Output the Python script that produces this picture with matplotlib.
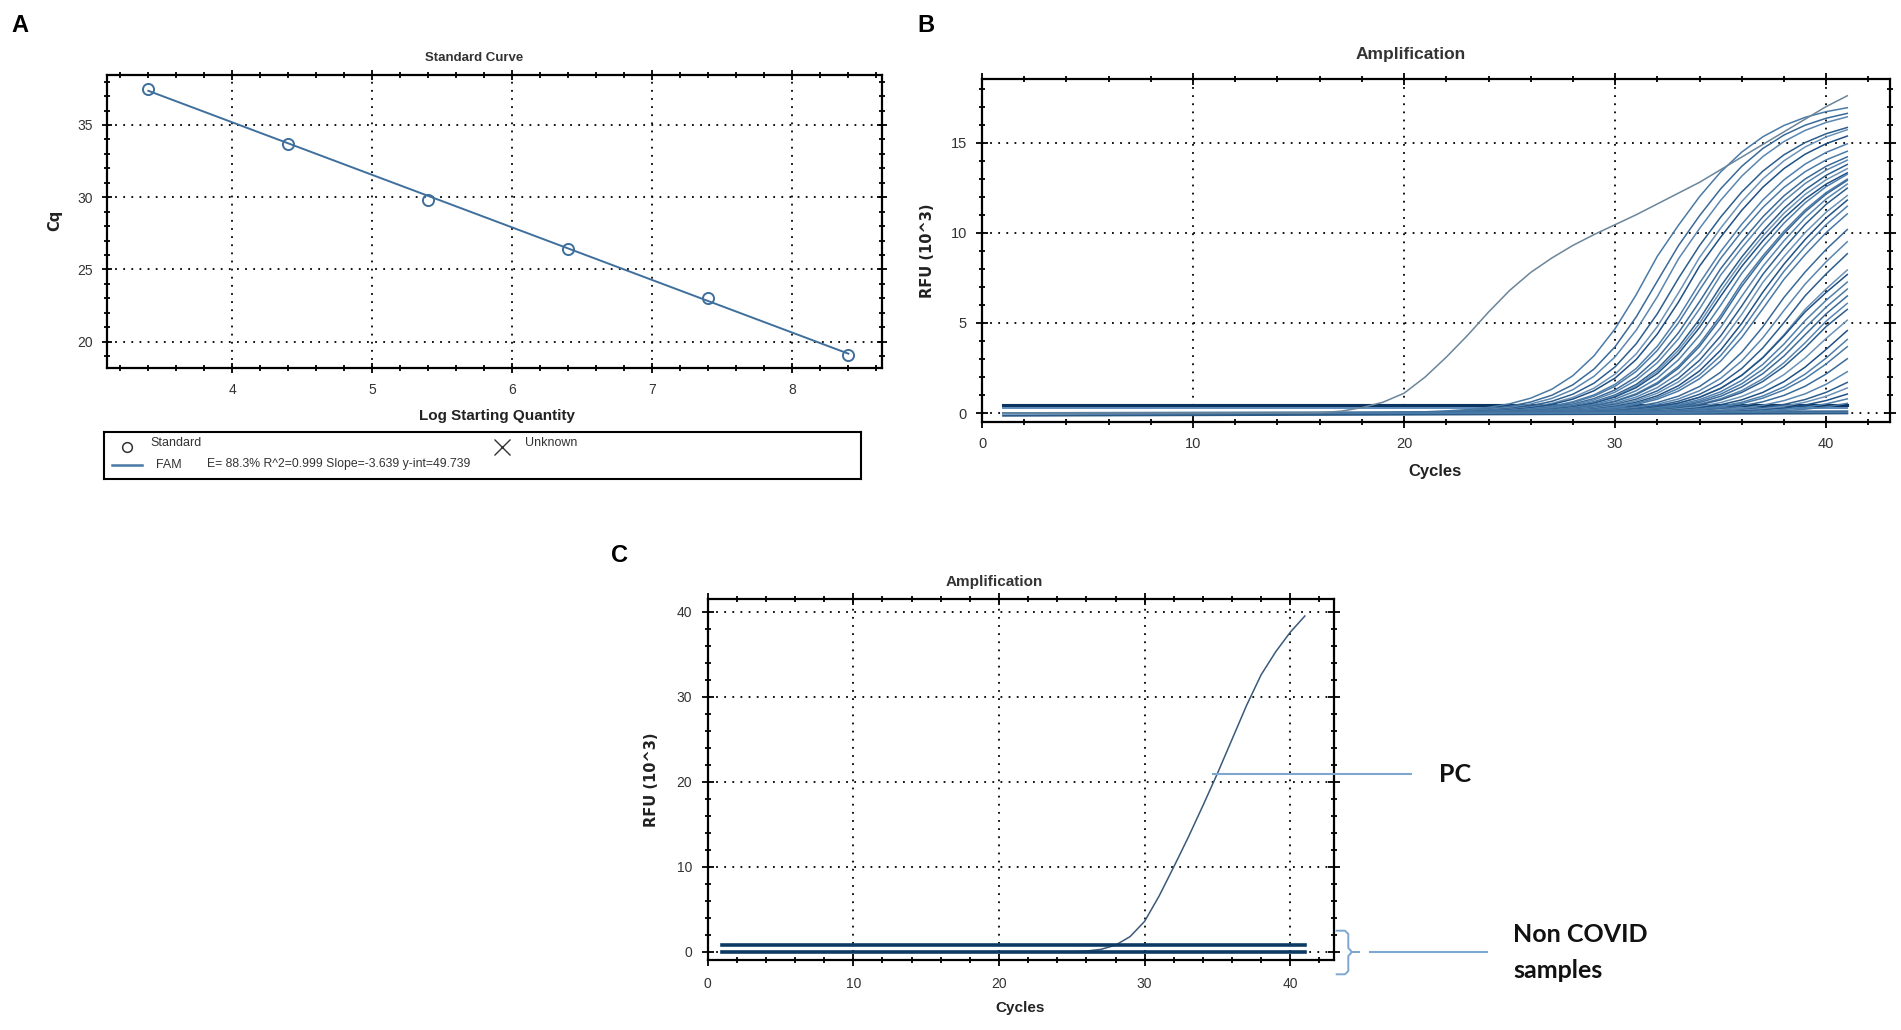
import numpy as np
import matplotlib
matplotlib.use("Agg")
import matplotlib.pyplot as plt
from matplotlib.ticker import MultipleLocator
from matplotlib.lines import Line2D

# ---------------- data ----------------
# Panel A: standard curve
log_qty = [3.4, 4.4, 5.4, 6.4, 7.4, 8.4]
cq_values = [37.5, 33.7, 29.8, 26.4, 23.0, 19.1]
fit_slope = -3.639
fit_intercept = 49.739
fit_eff_pct = 88.3
fit_r2 = 0.999

# Panel B: amplification curves (cycles 1..41)
cycles = list(range(1, 42))
b_early_curve = [0.0] * 15 + [0.02, 0.1, 0.3, 0.6, 1.1, 2.0, 3.1, 4.3, 5.6, 6.8,
                              7.8, 8.6, 9.3, 9.9, 10.45, 11.0, 11.6, 12.2, 12.8,
                              13.5, 14.2, 14.9, 15.6, 16.3, 17.0, 17.6]
# sigmoid curves: plateau (RFU x10^3) and midpoint cycle
b_plateau = [17.4, 17.2, 17.1, 16.6, 16.6, 16.3, 16.0, 15.6, 15.4, 15.3, 15.2,
             15.0, 14.8, 14.9, 14.8, 14.8, 14.8, 14.8, 14.5, 14.5, 14.3, 14.0,
             13.5, 13.0, 12.5, 11.5, 11.0, 10.8, 10.5, 10.2, 10.0, 9.6, 9.2,
             8.8, 8.5, 8.0, 7.5, 7.0, 6.5, 6.0, 5.5, 5.0, 4.5]
b_midpoint = [32.0, 32.6, 33.0, 33.4, 33.8, 34.0, 34.4, 34.5, 34.8, 35.0, 35.3,
              35.4, 35.5, 35.8, 36.1, 36.2, 36.5, 36.8, 37.0, 37.3, 37.5, 37.7,
              38.2, 38.5, 38.8, 39.0, 38.9, 39.2, 39.4, 39.6, 39.9, 40.0, 40.4,
              40.8, 41.16, 41.32, 41.8, 42.44, 43.08, 43.4, 43.88, 44.36, 45.0]
b_width_rise = 2.0
b_width_top = 2.5
# flat (negative) traces: value at first and last cycle
b_flat_start = [0.46, 0.44, 0.28, 0.02, -0.12, -0.15, 0.0]
b_flat_end = [0.46, 0.44, 0.28, 0.02, 0.0, -0.02, 0.1]

# Panel C: positive control and negative samples
c_pc_curve = [0.0] * 25 + [0.1, 0.3, 0.8, 1.8, 3.6, 6.6, 10.0, 13.5, 17.2, 21.0,
                           25.0, 29.0, 32.6, 35.3, 37.6, 39.5]
c_flat_levels = [0.82, -0.05]
pc_label_level = 20.9
pc_label_cycle = 34.7

# ---------------- figure ----------------
W, H = 1901, 1030
plt.rcParams['font.family'] = ['Liberation Sans', 'DejaVu Sans']
fig = plt.figure(figsize=(W / 100, H / 100), dpi=100)
fig.patch.set_facecolor('white')


def px_axes(l, t, r, b):
    return fig.add_axes([l / W, 1 - b / H, (r - l) / W, (b - t) / H])


def ftext(x, y, s, **kw):
    fig.text(x / W, 1 - y / H, s, **kw)


def style(ax, xmaj, xmin, ymaj, ymin, maj_len, min_len, labsize, xpad, ypad):
    ax.xaxis.set_major_locator(MultipleLocator(xmaj))
    ax.xaxis.set_minor_locator(MultipleLocator(xmin))
    ax.yaxis.set_major_locator(MultipleLocator(ymaj))
    ax.yaxis.set_minor_locator(MultipleLocator(ymin))
    ax.tick_params(which='both', direction='inout', top=True, right=True,
                   width=1.3, color='black', labelcolor='#333333')
    ax.tick_params(which='major', length=maj_len, labelsize=labsize)
    ax.tick_params(which='minor', length=min_len)
    ax.tick_params(axis='x', which='major', pad=xpad)
    ax.tick_params(axis='y', which='major', pad=ypad)
    for s in ax.spines.values():
        s.set_linewidth(1.6)
        s.set_color('black')
    ax.grid(True, which='major', linestyle=(0, (1, 3.5)), color='black', lw=1.3)
    ax.set_axisbelow(True)


# ---------- Panel A ----------
axA = px_axes(107, 75, 882, 368)
fit_x = np.array([log_qty[0], log_qty[-1]])
axA.plot(fit_x, fit_slope * fit_x + fit_intercept, color='#3f6f9c', lw=1.4, zorder=3)
axA.plot(log_qty, cq_values, 'o', mfc='none', mec='#3f6f9c', ms=8, mew=1.4, zorder=4)
axA.set_xlim(3.105, 8.64)
axA.set_ylim(18.18, 38.46)
style(axA, 1, 0.2, 5, 1, 7.5, 4, 10, 7, 6.2)
axA.set_xlabel('Log Starting Quantity', fontsize=11, fontweight='bold', color='#222222')
axA.xaxis.set_label_coords(0.503, -0.14)
axA.set_ylabel('Cq', fontsize=10.5, fontweight='bold', family='DejaVu Sans', color='#222222')
axA.yaxis.set_label_coords(-0.058, 0.505)
ftext(474, 58, 'Standard Curve', fontsize=9.5, fontweight='bold', ha='center', va='center',
      color='#333333')
ftext(20, 25, 'A', fontsize=17, fontweight='bold', ha='center', va='center')

# legend box of panel A
lg = px_axes(104, 432, 861, 479)
lg.set_xlim(104, 861)
lg.set_ylim(479, 432)
lg.set_xticks([])
lg.set_yticks([])
for s in lg.spines.values():
    s.set_linewidth(1.5)
lg.plot([126.7], [446.7], 'o', mfc='none', mec='#333333', ms=7, mew=1.1)
lg.text(150.7, 443, 'Standard', fontsize=9, va='center', ha='left', color='#333333')
lg.plot([502], [447], 'x', color='#333333', ms=11, mew=1.0)
lg.text(525, 443, 'Unknown', fontsize=9, va='center', ha='left', color='#333333')
lg.plot([111.7, 141.7], [465, 465], color='#4a78a4', lw=1.8)
lg.text(156, 464.5, 'FAM', fontsize=9, va='center', ha='left', color='#333333')
lg.text(206.7, 464.5,
        f'E= {fit_eff_pct:.1f}% R^2={fit_r2:.3f} Slope={fit_slope:.3f} y-int={fit_intercept:.3f}',
        fontsize=8.8, va='center', ha='left', color='#333333')

# ---------- Panel B ----------
axB = px_axes(982, 79, 1889.5, 421.5)
cyc = np.array(cycles, dtype=float)
palette = ['#4a7aa7', '#3a6a98', '#5a86b0', '#2d5e8e', '#6b92b7', '#1f5185', '#4f7fab']
flat_cols = ['#0b3560', '#0b3560', '#5b8bbd', '#1d4c7a', '#7fa8d0', '#2b5a86', '#3e6d98']
for i, (flat0, flat1) in enumerate(zip(b_flat_start, b_flat_end)):
    axB.plot([cycles[0], cycles[-1]], [flat0, flat1], color=flat_cols[i],
             lw=2.2 if i < 2 else 1.4, zorder=2)
for i, (top, mid) in enumerate(zip(b_plateau, b_midpoint)):
    w = np.where(cyc < mid, b_width_rise, b_width_top)
    yv = top / (1 + np.exp(-(cyc - mid) / w))
    axB.plot(cyc, yv, color=palette[i % len(palette)], lw=1.1, zorder=3)
axB.plot(cycles, b_early_curve, color='#6b8599', lw=1.1, zorder=3)
axB.set_xlim(0, 43)
axB.set_ylim(-0.47, 18.53)
style(axB, 10, 2, 5, 1, 9, 5, 10.5, 7, 6.3)
axB.set_xlabel('Cycles', fontsize=12, fontweight='bold', color='#222222')
axB.xaxis.set_label_coords(0.499, -0.125)
axB.set_ylabel('RFU (10^3)', fontsize=10.5, fontweight='bold', family='DejaVu Sans', color='#222222')
axB.yaxis.set_label_coords(-0.052, 0.5)
ftext(1411, 54, 'Amplification', fontsize=12.5, fontweight='bold', ha='center', va='center',
      color='#333333')
ftext(925.5, 25, 'B', fontsize=17, fontweight='bold', ha='center', va='center')

# ---------- Panel C ----------
axC = px_axes(707.7, 599, 1334, 960)
axC.plot(cycles, c_pc_curve, color='#3a5a7a', lw=1.1, zorder=3)
for lvl in c_flat_levels:
    axC.plot([cycles[0], cycles[-1]], [lvl, lvl], color='#0d3a63', lw=2.6, zorder=4)
axC.set_xlim(0, 43)
axC.set_ylim(-0.95, 41.5)
style(axC, 10, 2, 10, 2, 8.5, 5, 10, 7.8, 7)
axC.set_xlabel('Cycles', fontsize=11, fontweight='bold', color='#222222')
axC.xaxis.set_label_coords(0.4995, -0.113)
axC.set_ylabel('RFU (10^3)', fontsize=10.5, fontweight='bold', family='DejaVu Sans', color='#222222')
axC.yaxis.set_label_coords(-0.078, 0.4986)
ftext(994, 582, 'Amplification', fontsize=11, fontweight='bold', ha='center', va='center',
      color='#333333')
ftext(619, 555, 'C', fontsize=17, fontweight='bold', ha='center', va='center')

# PC annotation line
x_end = axC.transData.inverted().transform((1411, 0))[0]
axC.plot([pc_label_cycle, x_end], [pc_label_level, pc_label_level], color='#7ea7cf', lw=1.5,
         clip_on=False, zorder=5)
ftext(1439, 775, 'PC', fontsize=18, fontweight='bold', family='Lato', ha='left', va='center',
      color='#111111')

# bracket for negatives
bx = [1336.7, 1345, 1348.3, 1348.3, 1352, 1359, 1352, 1348.3, 1348.3, 1345, 1336.7]
by = [930.7, 930.7, 934, 948, 952, 952, 952, 956, 971, 974.3, 974.3]
fig.add_artist(Line2D([v / W for v in bx], [1 - v / H for v in by], color='#7ea7cf', lw=1.4,
                      transform=fig.transFigure))
fig.add_artist(Line2D([1370 / W, 1487 / W], [1 - 952 / H, 1 - 952 / H], color='#7ea7cf', lw=1.5,
                      transform=fig.transFigure))
ftext(1513, 935, 'Non COVID', fontsize=18, fontweight='bold', family='Lato', ha='left',
      va='center', color='#111111')
ftext(1513, 971, 'samples', fontsize=18, fontweight='bold', family='Lato', ha='left',
      va='center', color='#111111')

fig.savefig('out.png', dpi=100)
